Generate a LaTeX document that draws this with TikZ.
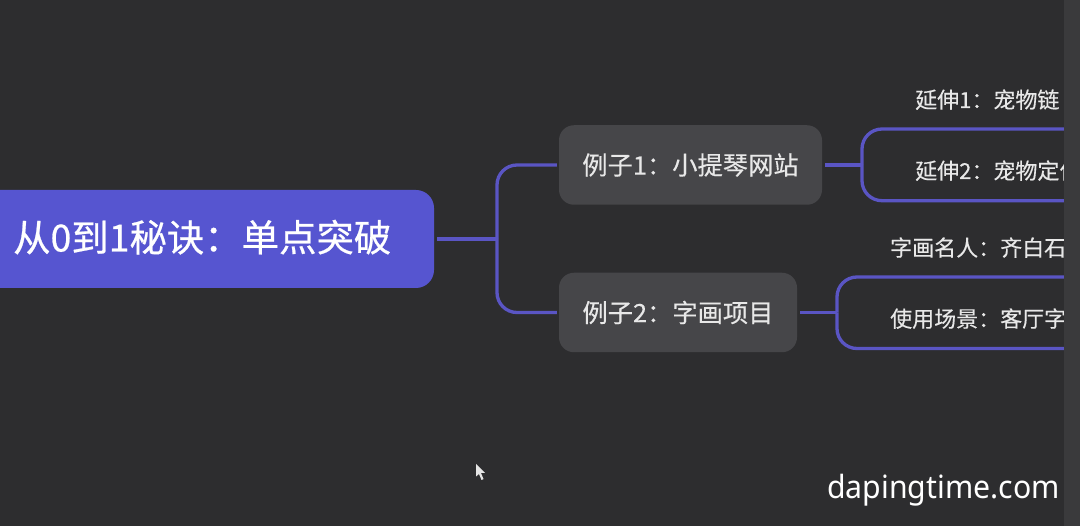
\documentclass[tikz,border=0pt]{standalone}
\usepackage{fontspec}
\setmainfont[FakeBold=0.25]{Noto Sans CJK SC}
\newfontfamily\rootfont[FakeBold=0.6]{Noto Sans CJK SC}
\newfontfamily\wmfont[FakeStretch=0.945]{Noto Sans}
\definecolor{bgc}{HTML}{2D2D2F}
\definecolor{stripc}{HTML}{3A3A3C}
\definecolor{boxc}{HTML}{464649}
\definecolor{rootc}{HTML}{5655D0}
\definecolor{linec}{HTML}{5A55C4}
\definecolor{txtc}{HTML}{E8E8E8}
\tikzset{
  rootbox/.style={fill=rootc,rounded corners=18pt,inner sep=0pt},
  midbox/.style={fill=boxc,rounded corners=15pt,inner sep=0pt,minimum height=79.5pt,text=txtc,font=\fontsize{25.3}{25.3}\selectfont},
  leaftext/.style={anchor=base west,inner sep=0pt,text=txtc,font=\fontsize{22}{22}\selectfont},
  link/.style={draw=linec,line width=3.3pt},
  curve/.style={link,rounded corners=20pt},
}
\begin{document}
\begin{tikzpicture}[x=1pt,y=-1pt]
\useasboundingbox (0,0) rectangle (1080,526);
\fill[bgc] (0,0) rectangle (1080,526);
% root
\begin{scope}
\clip (0,0) rectangle (1080,526);
\node[rootbox,minimum width=474pt,minimum height=98pt] (root) at (197,239) {};
\end{scope}
\node[anchor=base west,inner sep=0pt,text=white,font=\rootfont\fontsize{37.4}{37.4}\selectfont] (roottext) at (13,251.5) {从0到1秘诀：单点突破};
% branch boxes
\node[midbox,minimum width=263pt] (ex1) at (690.5,165) {例子1：小提琴网站};
\node[midbox,minimum width=238pt] (ex2) at (678,312.5) {例子2：字画项目};
% junctions and free ends
\coordinate (j0) at (root.east -| 497,0);
\coordinate (j1) at (ex1.east -| 862,0);
\coordinate (j2) at (ex2.east -| 837,0);
\coordinate (e1a) at (1070,129);
\coordinate (e1b) at (1070,200.7);
\coordinate (e2a) at (1070,277);
\coordinate (e2b) at (1070,348.5);
% connectors
\draw[link] ([xshift=3pt]root.east) -- (j0);
\draw[curve] (j0) |- ([xshift=-2pt]ex1.west);
\draw[curve] (j0) |- ([xshift=-2pt]ex2.west);
\draw[link] ([xshift=3pt]ex1.east) -- (j1);
\draw[curve] (j1) |- (e1a);
\draw[curve] (j1) |- (e1b);
\draw[link] ([xshift=3pt]ex2.east) -- (j2);
\draw[curve] (j2) |- (e2a);
\draw[curve] (j2) |- (e2b);
% leaf texts
\node[leaftext] (l1) at (915,108) {延伸1：宠物链};
\node[leaftext] (l2) at (915,179) {延伸2：宠物定位};
\node[leaftext] (l3) at (890,256) {字画名人：齐白石};
\node[leaftext] (l4) at (890,327) {使用场景：客厅字};
% right strip
\fill[stripc] (1064,0) rectangle (1080,526);
% cursor
\fill[white!90!black] (476,464) -- (476,476.5) -- (479,474) -- (481.5,480) -- (483.5,479) -- (481,473) -- (485,473) -- cycle;
% watermark
\node[anchor=base east,inner sep=0pt,text=white,font=\wmfont\fontsize{32}{32}\selectfont] (wm) at (1060,498.5) {dapingtime.com};
\end{tikzpicture}
\end{document}
